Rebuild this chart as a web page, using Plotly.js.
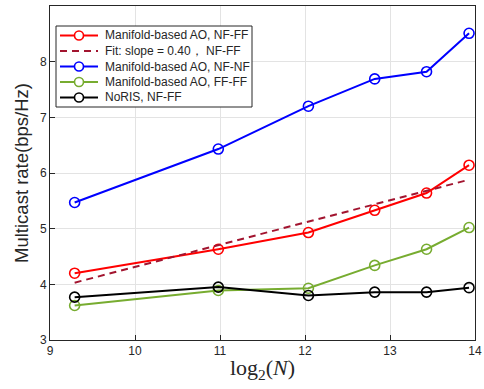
<!DOCTYPE html>
<html><head><meta charset="utf-8">
<script src="https://cdn.plot.ly/plotly-3.0.1.min.js"></script>
<style>html,body{margin:0;padding:0;background:#fff;}#chart{width:484px;height:389px;}</style>
</head><body><div id="chart"></div>
<script>
const log2N = [9.29, 10.98, 12.04, 12.82, 13.43, 13.93];
const aoNFFF = [4.20, 4.63, 4.93, 5.33, 5.64, 6.14];
const fitNFFF = [4.03, 4.70, 5.13, 5.44, 5.68, 5.88];
const aoNFNF = [5.47, 6.43, 7.20, 7.69, 7.82, 8.51];
const aoFFFF = [3.62, 3.89, 3.93, 4.34, 4.63, 5.02];
const noRIS = [3.77, 3.95, 3.80, 3.86, 3.86, 3.94];
const names = ['Manifold-based AO, NF-FF', 'Fit: slope = 0.40\uFF0C NF-FF', 'Manifold-based AO, NF-NF', 'Manifold-based AO, FF-FF', 'NoRIS, NF-FF'];
const colors = ['#ff0000', '#a2142f', '#0000ff', '#77ac30', '#000000'];
const xTicks = [9, 10, 11, 12, 13, 14];
const yTicks = [3, 4, 5, 6, 7, 8, 9];

const W = 484, H = 389, M = {l: 50, r: 9, t: 6, b: 49};
const pw = W - M.l - M.r, ph = H - M.t - M.b;
const px2x = (p) => (p - M.l) / pw;
const px2y = (p) => 1 - (p - M.t) / ph;

const mk = (c) => ({symbol: 'circle-open', size: 10, color: c, line: {width: 1.6, color: c}});
const dashStyle = '7px,5px';
const traces = [
  {x: log2N, y: aoNFFF, name: names[0], mode: 'lines+markers', line: {color: colors[0], width: 2}, marker: mk(colors[0])},
  {x: log2N, y: fitNFFF, name: names[1], mode: 'lines', line: {color: colors[1], width: 2, dash: dashStyle}},
  {x: log2N, y: aoNFNF, name: names[2], mode: 'lines+markers', line: {color: colors[2], width: 2}, marker: mk(colors[2])},
  {x: log2N, y: aoFFFF, name: names[3], mode: 'lines+markers', line: {color: colors[3], width: 2}, marker: mk(colors[3])},
  {x: log2N, y: noRIS, name: names[4], mode: 'lines+markers', line: {color: colors[4], width: 2}, marker: mk(colors[4])}
];

// custom legend (layout decoration)
const shapes = [{type: 'rect', xref: 'paper', yref: 'paper', x0: px2x(56), x1: px2x(252), y0: px2y(26), y1: px2y(107),
  fillcolor: '#ffffff', line: {color: '#262626', width: 1}, layer: 'above'}];
const annotations = [];
const rowY = [35.5, 51, 66.5, 82, 97.5];
names.forEach((n, i) => {
  const y = rowY[i];
  shapes.push({type: 'line', xref: 'paper', yref: 'paper', x0: px2x(60), x1: px2x(98), y0: px2y(y), y1: px2y(y),
    line: {color: colors[i], width: 2, dash: i === 1 ? dashStyle : 'solid'}, layer: 'above'});
  if (i !== 1) {
    const r = 4.5;
    shapes.push({type: 'circle', xref: 'paper', yref: 'paper', x0: px2x(79 - r), x1: px2x(79 + r), y0: px2y(y + r), y1: px2y(y - r),
      fillcolor: '#ffffff', line: {color: colors[i], width: 1.6}, layer: 'above'});
  }
  annotations.push({text: n, xref: 'paper', yref: 'paper', x: px2x(103), y: px2y(y), xanchor: 'left', yanchor: 'middle',
    showarrow: false, font: {family: 'Liberation Sans, Arial, sans-serif', size: 12, color: '#262626'}});
});

const axisCommon = {
  showline: true, mirror: true, linecolor: '#262626', linewidth: 1,
  ticks: 'inside', ticklen: 5, tickcolor: '#262626',
  showgrid: true, gridcolor: '#e3e3e3', gridwidth: 1, zeroline: false,
  tickfont: {family: 'Liberation Sans, Arial, sans-serif', size: 12, color: '#262626'}
};
const layout = {
  width: W, height: H,
  margin: M,
  paper_bgcolor: '#fff', plot_bgcolor: '#fff',
  showlegend: false,
  shapes: shapes, annotations: annotations,
  xaxis: Object.assign({}, axisCommon, {range: [9, 14], tickvals: xTicks, ticktext: xTicks.map(String),
    title: {text: 'log<sub>2</sub>(<i>N</i>)', font: {family: 'Liberation Serif, DejaVu Serif, serif', size: 22, color: '#262626'}, standoff: 2}}),
  yaxis: Object.assign({}, axisCommon, {range: [3, 9], tickvals: yTicks, ticktext: yTicks.map(String),
    title: {text: 'Multicast rate(bps/Hz)', font: {family: 'Liberation Sans, Arial, sans-serif', size: 18.5, color: '#262626'}, standoff: 6}})
};
Plotly.newPlot('chart', traces, layout, {displayModeBar: false, staticPlot: true});
</script></body></html>
